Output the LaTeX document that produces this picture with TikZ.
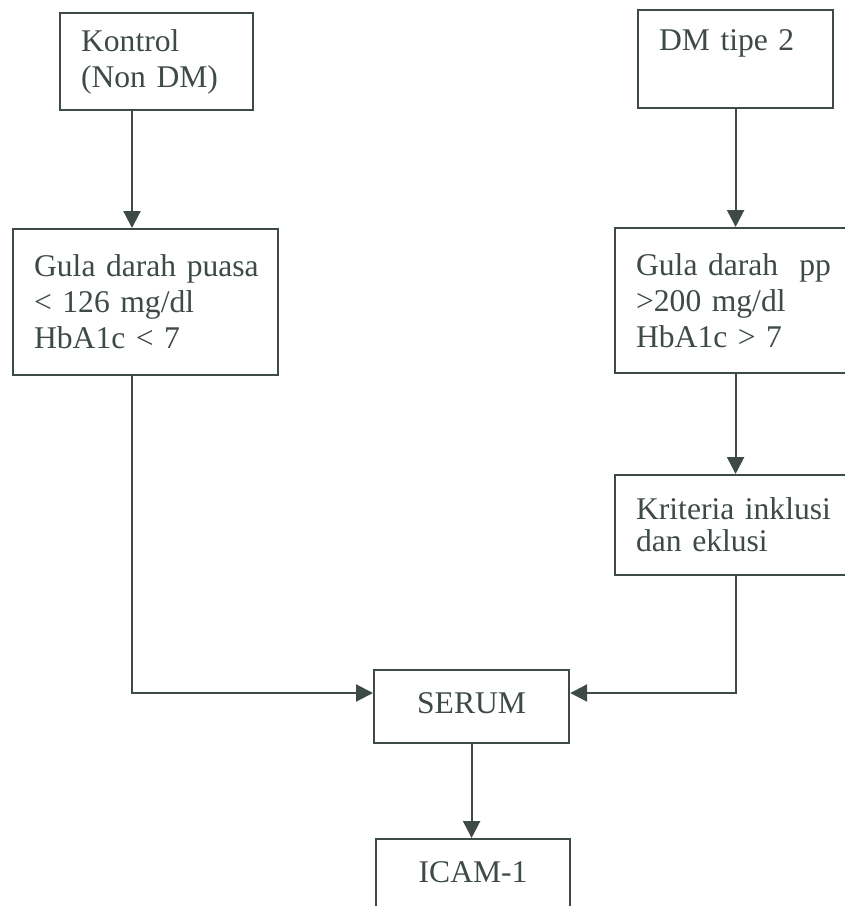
\documentclass[tikz,border=0pt]{standalone}
\usepackage{fontspec}
\setmainfont{Liberation Serif}
\usepackage{xcolor}
\usepackage{tikz}
\usetikzlibrary{arrows.meta}
\definecolor{ink}{RGB}{62,74,72}

\begin{document}
\begin{tikzpicture}[
  x=0.5pt, y=-0.5pt,
  block/.style={rectangle, draw=ink, line width=1.1pt, text=ink, anchor=north west, align=left, inner xsep=10.5pt, inner ysep=0pt, font=\fontsize{15.8}{18}\selectfont},
  midblock/.style={block, align=center, text height=10.5pt, text depth=4pt},
  arrow/.style={-{Triangle[length=8.5pt,width=8.5pt]}, draw=ink, line width=1.1pt}
]
\useasboundingbox (0,0) rectangle (845,906);

\node[block, text width=75.5pt, minimum height=48.5pt] (kontrol) at (59,12) {Kontrol\\(Non DM)};
\node[block, text width=76.5pt, minimum height=49pt, text depth=18.9pt] (dm) at (637,9) {DM tipe 2};
\node[block, text width=111.5pt, minimum height=73pt] (gulaL) at (12,228) {Gula~darah~puasa\\< 126 mg/dl\\HbA1c < 7};
\node[block, text width=97pt, minimum height=72.5pt] (gulaR) at (614,227) {Gula~darah~~pp\\>200 mg/dl\\HbA1c > 7};
\node[block, text width=98pt, minimum height=50pt, font=\fontsize{15.8}{16}\selectfont] (kriteria) at (614,474) {Kriteria~inklusi\\dan eklusi};
\node[midblock, text width=76.5pt, minimum height=36.5pt] (serum) at (373,669) {SERUM};
\node[midblock, text width=76pt, minimum height=36.5pt] (icam) at (375,838) {ICAM-1};

\coordinate (lx) at (132,0);
\coordinate (ay) at (0,693);

\draw[arrow] (kontrol.south -| lx) -- (gulaL.north -| lx);
\draw[arrow] (dm.south) -- (gulaR.north -| dm.south);
\draw[arrow] (gulaR.south -| dm.south) -- (kriteria.north -| dm.south);
\draw[arrow] (gulaL.south -| lx) |- (serum.west |- ay);
\draw[arrow] (kriteria.south -| dm.south) |- (serum.east |- ay);
\draw[arrow] (serum.south) -- (icam.north -| serum.south);
\end{tikzpicture}
\end{document}
